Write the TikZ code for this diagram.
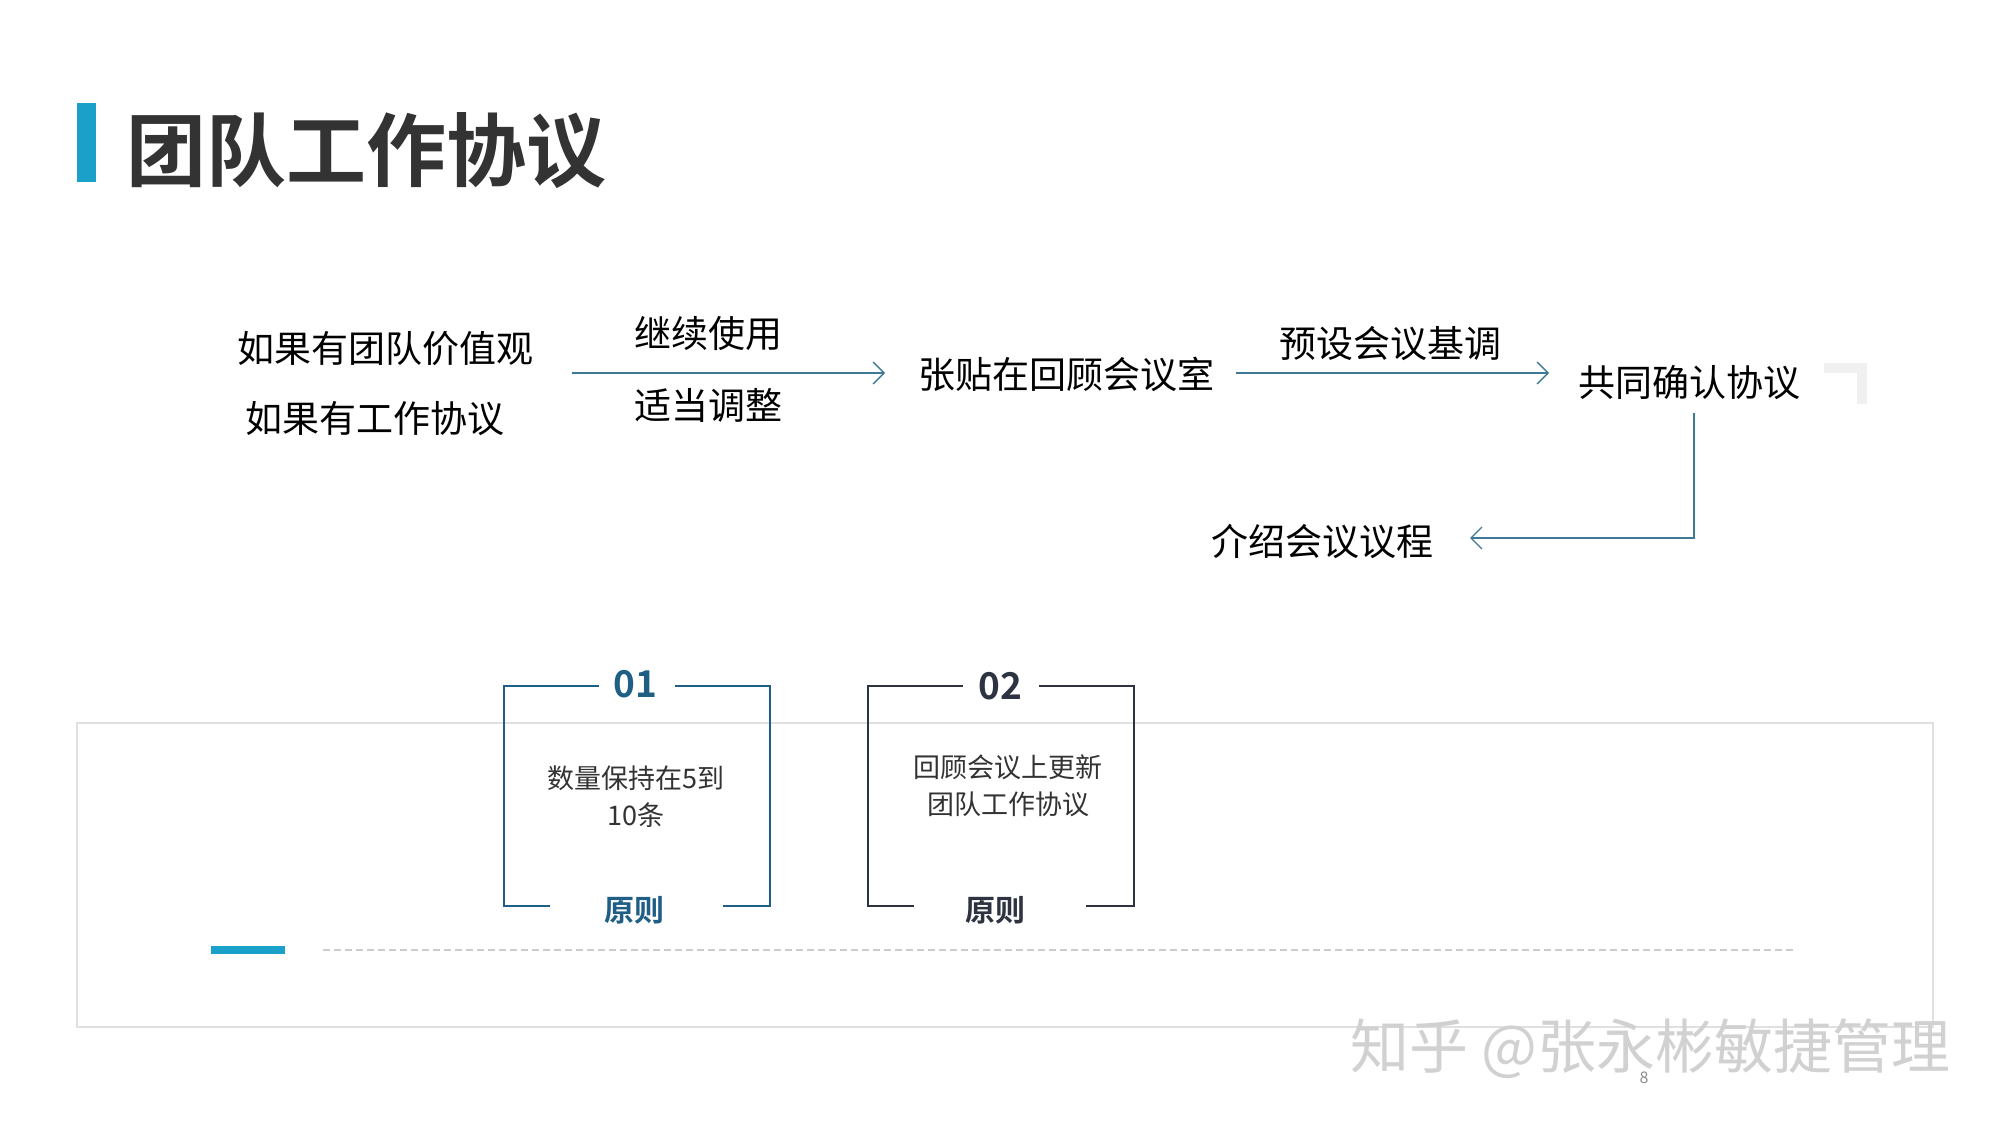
\documentclass[tikz,border=0pt]{standalone}
\usepackage{fontspec}
\setmainfont{Noto Sans CJK SC}
\newfontfamily\cjkb{Noto Sans CJK SC Bold}
\usetikzlibrary{arrows.meta}
\definecolor{accent}{HTML}{1BA1C9}
\definecolor{flow}{HTML}{3E7A96}
\definecolor{boxa}{HTML}{1F5F85}
\definecolor{boxb}{HTML}{2D3340}
\definecolor{titc}{HTML}{333333}
\tikzset{
  big/.style={font=\fontsize{37}{44}\selectfont, text=black, inner sep=0},
  small/.style={font=\fontsize{27}{37}\selectfont, text=titc, inner sep=0, align=center},
  flowline/.style={draw=flow, line width=1.3pt, -{Straight Barb[length=11pt,width=22pt]}},
  numlab/.style={font=\cjkb\fontsize{37}{44}\selectfont, inner sep=0},
  princ/.style={font=\cjkb\fontsize{30}{36}\selectfont, inner sep=0}
}
\begin{document}
\begin{tikzpicture}[x=1pt,y=-1pt]
\useasboundingbox (0,0) rectangle (2000,1125);
\fill[white] (0,0) rectangle (2000,1125);
% title
\fill[accent] (77,103) rectangle (96,182);
\node[anchor=west, inner sep=0, font=\cjkb\fontsize{80}{90}\selectfont, text=titc] (title) at (126,151) {团队工作协议};
% flow
\node[big] (v1) at (385,349) {如果有团队价值观};
\node[big] (v2) at (375,419) {如果有工作协议};
\node[big] (l1) at (708,333) {继续使用};
\node[big] (l2) at (708,405) {适当调整};
\node[big] (post) at (1066,374) {张贴在回顾会议室};
\node[big] (l3) at (1390,344) {预设会议基调};
\node[big] (conf) at (1689,383) {共同确认协议};
\node[big] (intro) at (1322,541) {介绍会议议程};
\coordinate (a1s) at (572,373);
\coordinate (a1e) at (885,373);
\coordinate (a2s) at (1236,373);
\coordinate (a2e) at (1549,373);
\draw[flowline] (a1s) -- (a1e);
\draw[flowline] (a2s) -- (a2e);
\coordinate (c1) at (1694,413);
\coordinate (c2) at (1694,538);
\coordinate (c3) at (1470,538);
\draw[flowline] (c1) -- (c2) -- (c3);
% grey corner bracket
\draw[line width=10pt, draw=black!6] (1824,368) -- (1862,368) -- (1862,404);
% panel
\draw[draw=black!12, line width=1.5pt] (77,723) rectangle (1933,1027);
\fill[accent] (211,946) rectangle (285,954);
\draw[draw=black!20, line width=1.2pt, dash pattern=on 7pt off 4pt] (323,950) -- (1797,950);
% box 1
\draw[boxa, line width=2.2pt] (599,686) -- (504,686) -- (504,906) -- (550,906);
\draw[boxa, line width=2.2pt] (675,686) -- (770,686) -- (770,906) -- (723,906);
\node[numlab, text=boxa] (n1) at (635,684) {01};
\node[princ, text=boxa] (p1) at (634,910) {原则};
\node[small] (t1) at (636,797) {数量保持在5到\\10条};
% box 2
\draw[boxb, line width=2.2pt] (963,686) -- (868,686) -- (868,906) -- (914,906);
\draw[boxb, line width=2.2pt] (1039,686) -- (1134,686) -- (1134,906) -- (1086,906);
\node[numlab, text=boxb] (n2) at (1000,686) {02};
\node[princ, text=boxb] (p2) at (995,910) {原则};
\node[small] (t2) at (1008,786) {回顾会议上更新\\团队工作协议};
% watermark
\node[inner sep=0, font=\fontsize{59}{62}\selectfont, text=black!18] (wm) at (1650,1049) {知乎 @张永彬敏捷管理};
\node[inner sep=0, font=\fontsize{16}{18}\selectfont, text=black!45] (pg) at (1644,1078) {8};
\end{tikzpicture}
\end{document}
